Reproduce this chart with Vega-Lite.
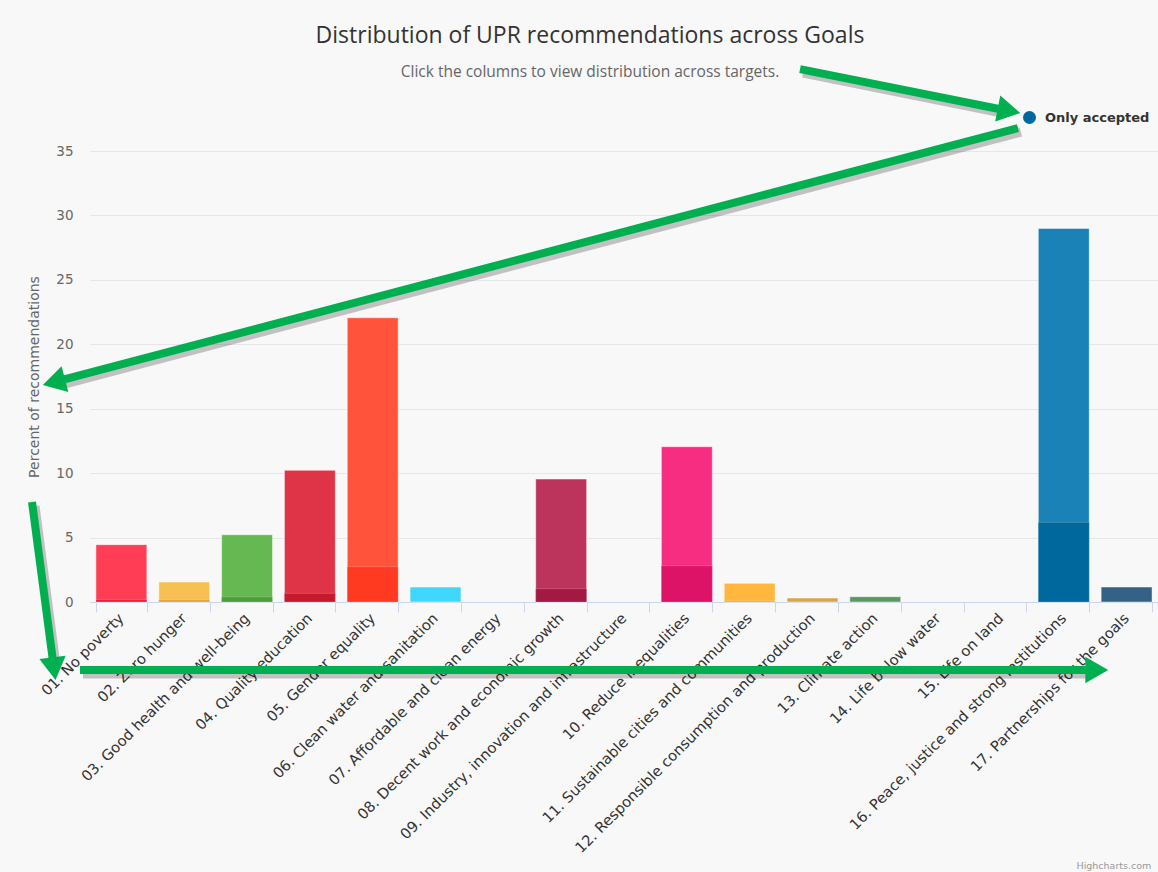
{
  "$schema": "https://vega.github.io/schema/vega-lite/v6.json",
  "width": 1068,
  "height": 451,
  "autosize": {"type": "none"},
  "padding": {"left": 90, "top": 151, "right": 0, "bottom": 270},
  "background": "#f8f8f8",
  "title": {
    "text": "Distribution of UPR recommendations across Goals",
    "subtitle": "Click the columns to view distribution across targets.",
    "anchor": "middle",
    "frame": "group",
    "font": "Open Sans",
    "fontSize": 23,
    "fontWeight": "normal",
    "color": "#333333",
    "subtitleFont": "Open Sans",
    "subtitleFontSize": 15.5,
    "subtitleColor": "#666666",
    "subtitlePadding": 17,
    "offset": -27.5,
    "dx": -34
  },
  "config": {"view": {"stroke": null}},
  "datasets": {
    "goals": [
      {"goal": "01. No poverty", "total": 4.45, "accepted": 0.2},
      {"goal": "02. Zero hunger", "total": 1.55, "accepted": 0.18},
      {"goal": "03. Good health and well-being", "total": 5.22, "accepted": 0.4},
      {"goal": "04. Quality education", "total": 10.22, "accepted": 0.67},
      {"goal": "05. Gender equality", "total": 22.06, "accepted": 2.74},
      {"goal": "06. Clean water and sanitation", "total": 1.16, "accepted": 0},
      {"goal": "07. Affordable and clean energy", "total": 0, "accepted": 0},
      {"goal": "08. Decent work and economic growth", "total": 9.54, "accepted": 1.03},
      {"goal": "09. Industry, innovation and infrastructure", "total": 0, "accepted": 0},
      {"goal": "10. Reduce inequalities", "total": 12.05, "accepted": 2.82},
      {"goal": "11. Sustainable cities and communities", "total": 1.45, "accepted": 0.08},
      {"goal": "12. Responsible consumption and production", "total": 0.31, "accepted": 0},
      {"goal": "13. Climate action", "total": 0.41, "accepted": 0},
      {"goal": "14. Life below water", "total": 0, "accepted": 0},
      {"goal": "15. Life on land", "total": 0, "accepted": 0},
      {"goal": "16. Peace, justice and strong institutions", "total": 28.99, "accepted": 6.18},
      {"goal": "17. Partnerships for the goals", "total": 1.16, "accepted": 0}
    ],
    "arrowLines": [
      {"arrow": "a1", "ax": 11.302, "ay": 41.36},
      {"arrow": "a1", "ax": 14.491, "ay": 38.24},
      {"arrow": "a2", "ax": 14.771, "ay": 36.78},
      {"arrow": "a2", "ax": -0.441, "ay": 17.24},
      {"arrow": "a3", "ax": -0.923, "ay": 7.76},
      {"arrow": "a3", "ax": -0.591, "ay": -4.52},
      {"arrow": "a4", "ax": -0.159, "ay": -5.28},
      {"arrow": "a4", "ax": 15.851, "ay": -5.28}
    ],
    "arrowHeads": [
      {"arrow": "a1", "ax": 14.628, "ay": 38.12, "dir": 101.1},
      {"arrow": "a2", "ax": -0.575, "ay": 17.07, "dir": 255.2},
      {"arrow": "a3", "ax": -0.573, "ay": -5.18, "dir": 172.5},
      {"arrow": "a4", "ax": 16.025, "ay": -5.28, "dir": 90}
    ]
  },
  "layer": [
    {
      "data": {"name": "goals"},
      "encoding": {
        "x": {
          "field": "goal",
          "type": "nominal",
          "sort": null,
          "scale": {
            "domain": ["01. No poverty", "02. Zero hunger", "03. Good health and well-being", "04. Quality education", "05. Gender equality", "06. Clean water and sanitation", "07. Affordable and clean energy", "08. Decent work and economic growth", "09. Industry, innovation and infrastructure", "10. Reduce inequalities", "11. Sustainable cities and communities", "12. Responsible consumption and production", "13. Climate action", "14. Life below water", "15. Life on land", "16. Peace, justice and strong institutions", "17. Partnerships for the goals"],
            "paddingInner": 0.19,
            "paddingOuter": 0.095
          },
          "axis": {
            "title": "Highcharts.com",
            "titleX": 986,
            "titleY": 266,
            "titleAlign": "left",
            "titleBaseline": "alphabetic",
            "titleFont": "DejaVu Sans",
            "titleFontSize": 9.5,
            "titleFontWeight": "normal",
            "titleColor": "#999999",
            "labelAngle": -45,
            "labelAlign": "right",
            "labelBaseline": "middle",
            "labelFont": "DejaVu Sans",
            "labelFontSize": 14.7,
            "labelColor": "#333333",
            "labelPadding": 4,
            "labelLimit": 500,
            "labelOverlap": false,
            "tickBand": "extent",
            "tickSize": 10,
            "tickColor": "#ccd6eb",
            "domainColor": "#ccd6eb",
            "grid": false
          }
        }
      },
      "layer": [
        {
          "transform": [{"filter": "datum.total > 0"}],
          "mark": {"type": "bar", "stroke": "#ffffff", "strokeWidth": 1, "strokeOpacity": 0.45},
          "encoding": {
            "y": {
              "field": "total",
              "type": "quantitative",
              "scale": {"domain": [0, 35], "nice": false},
              "axis": {
                "title": "Percent of recommendations",
                "values": [0, 5, 10, 15, 20, 25, 30, 35],
                "domain": false,
                "ticks": false,
                "grid": true,
                "gridColor": "#e6e6e6",
                "labelFont": "DejaVu Sans",
                "labelFontSize": 13.5,
                "labelColor": "#666666",
                "labelPadding": 17,
                "titleFont": "DejaVu Sans",
                "titleFontSize": 14,
                "titleFontWeight": "normal",
                "titleColor": "#666666",
                "titlePadding": 14
              }
            },
            "fill": {
              "field": "goal",
              "type": "nominal",
              "legend": null,
              "scale": {
                "domain": ["01. No poverty", "02. Zero hunger", "03. Good health and well-being", "04. Quality education", "05. Gender equality", "06. Clean water and sanitation", "07. Affordable and clean energy", "08. Decent work and economic growth", "09. Industry, innovation and infrastructure", "10. Reduce inequalities", "11. Sustainable cities and communities", "12. Responsible consumption and production", "13. Climate action", "14. Life below water", "15. Life on land", "16. Peace, justice and strong institutions", "17. Partnerships for the goals"],
                "range": ["#FF3E55", "#F7C054", "#66B952", "#DF3347", "#FF543B", "#40D7FC", "#FFDD25", "#BC335C", "#FF833F", "#F72D81", "#FFB73E", "#D9A548", "#59985E", "#24B1F3", "#70DA45", "#1A82B7", "#336284"]
              }
            }
          }
        },
        {
          "transform": [{"filter": "datum.accepted > 0"}],
          "mark": {"type": "bar", "stroke": "#ffffff", "strokeWidth": 1, "strokeOpacity": 0.2},
          "encoding": {
            "y": {"field": "accepted", "type": "quantitative", "title": "Percent of recommendations", "scale": {"domain": [0, 35], "nice": false}},
            "color": {
              "field": "goal",
              "type": "nominal",
              "legend": null,
              "scale": {
                "domain": ["01. No poverty", "02. Zero hunger", "03. Good health and well-being", "04. Quality education", "05. Gender equality", "06. Clean water and sanitation", "07. Affordable and clean energy", "08. Decent work and economic growth", "09. Industry, innovation and infrastructure", "10. Reduce inequalities", "11. Sustainable cities and communities", "12. Responsible consumption and production", "13. Climate action", "14. Life below water", "15. Life on land", "16. Peace, justice and strong institutions", "17. Partnerships for the goals"],
                "range": ["#E5243B", "#DDA63A", "#4C9F38", "#C5192D", "#FF3A21", "#26BDE2", "#FCC30B", "#A21942", "#FD6925", "#DD1367", "#FD9D24", "#BF8B2E", "#3F7E44", "#0A97D9", "#56C02B", "#00689D", "#19486A"]
              }
            }
          }
        },
        {
          "mark": {"type": "point", "filled": true, "color": "#00689D", "opacity": 0, "size": 1},
          "encoding": {
            "y": {"field": "accepted", "type": "quantitative", "title": "Percent of recommendations", "scale": {"domain": [0, 35], "nice": false}},
            "shape": {
              "datum": "Only accepted",
              "type": "nominal",
              "scale": {"range": ["circle"]},
              "legend": {
                "title": null,
                "orient": "none",
                "legendX": 933,
                "legendY": -40,
                "padding": 0,
                "symbolSize": 169,
                "symbolOpacity": 1,
                "symbolFillColor": "#00689D",
                "symbolStrokeColor": "#00689D",
                "symbolStrokeWidth": 0,
                "labelFont": "DejaVu Sans",
                "labelFontSize": 13,
                "labelFontWeight": "bold",
                "labelColor": "#333333",
                "labelOffset": 9
              }
            }
          }
        }
      ]
    },
    {
      "data": {"name": "arrowLines"},
      "mark": {"type": "line", "color": "#000000", "opacity": 0.22, "strokeWidth": 9, "xOffset": 3, "yOffset": 4},
      "encoding": {
        "x": {"field": "ax", "type": "quantitative", "scale": {"domain": [0, 17], "nice": false, "zero": false}, "axis": null},
        "y": {"field": "ay", "type": "quantitative", "title": "Percent of recommendations", "scale": {"domain": [0, 35], "nice": false}},
        "detail": {"field": "arrow"}
      }
    },
    {
      "data": {"name": "arrowLines"},
      "mark": {"type": "line", "color": "#00B050", "strokeWidth": 8},
      "encoding": {
        "x": {"field": "ax", "type": "quantitative", "scale": {"domain": [0, 17], "nice": false, "zero": false}, "axis": null},
        "y": {"field": "ay", "type": "quantitative", "title": "Percent of recommendations", "scale": {"domain": [0, 35], "nice": false}},
        "detail": {"field": "arrow"}
      }
    },
    {
      "data": {"name": "arrowHeads"},
      "mark": {"type": "point", "shape": "triangle-up", "filled": true, "color": "#00B050", "opacity": 1, "size": 700},
      "encoding": {
        "x": {"field": "ax", "type": "quantitative", "scale": {"domain": [0, 17], "nice": false, "zero": false}, "axis": null},
        "y": {"field": "ay", "type": "quantitative", "title": "Percent of recommendations", "scale": {"domain": [0, 35], "nice": false}},
        "angle": {"field": "dir", "type": "quantitative", "scale": null}
      }
    }
  ],
  "resolve": {"scale": {"x": "independent"}}
}
